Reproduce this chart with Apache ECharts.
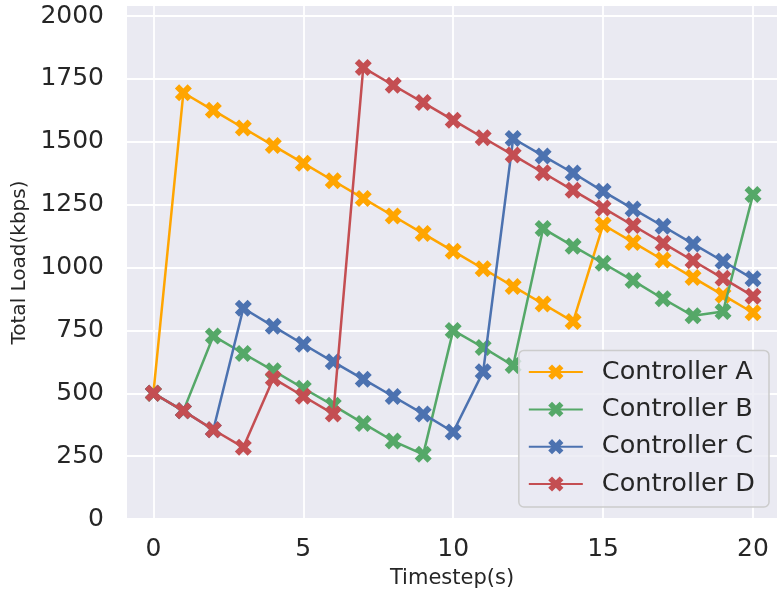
<!DOCTYPE html>
<html>
<head>
<meta charset="utf-8">
<script src="https://cdn.jsdelivr.net/npm/echarts@6/dist/echarts.min.js"></script>
<style>
  html, body { margin: 0; padding: 0; background: #ffffff; }
  #chart { width: 777px; height: 594px; }
</style>
</head>
<body>
<div id="chart"></div>
<script>
// Timesteps and per-controller total load (kbps)
const timesteps = [0, 1, 2, 3, 4, 5, 6, 7, 8, 9, 10, 11, 12, 13, 14, 15, 16, 17, 18, 19, 20];
const controllerA = [500, 1695, 1625, 1555, 1485, 1415, 1345, 1275, 1205, 1135, 1065, 995, 925, 855, 785, 1170, 1100, 1030, 960, 890, 820];
const controllerB = [500, 430, 728, 658, 590, 520, 452, 380, 310, 257, 750, 682, 610, 1155, 1085, 1017, 948, 876, 808, 825, 1290];
const controllerC = [500, 430, 355, 838, 766, 695, 625, 556, 487, 418, 346, 586, 1513, 1444, 1376, 1303, 1233, 1164, 1094, 1025, 955];
const controllerD = [500, 430, 355, 285, 559, 488, 418, 1795, 1725, 1656, 1586, 1516, 1447, 1377, 1307, 1237, 1167, 1097, 1027, 957, 886];

const seriesNames = ['Controller A', 'Controller B', 'Controller C', 'Controller D'];
const seriesColors = ['#FFA500', '#55A868', '#4C72B0', '#C44E52'];
const seriesValues = [controllerA, controllerB, controllerC, controllerD];

const xTicks = [0, 5, 10, 15, 20];
const yTicks = [0, 250, 500, 750, 1000, 1250, 1500, 1750, 2000];

// filled "X" marker
const xMarker = 'path://M1,-2L0,-1L-1,-2L-2,-1L-1,0L-2,1L-1,2L0,1L1,2L2,1L1,0L2,-1Z';

const textColor = '#262626';
const fontFamily = '"DejaVu Sans", sans-serif';

const chart = echarts.init(document.getElementById('chart'), null, { renderer: 'canvas' });

chart.setOption({
  animation: false,
  backgroundColor: '#ffffff',
  grid: {
    left: 127, right: 0, top: 6, bottom: 73.4,
    show: true, backgroundColor: '#EAEAF2', borderWidth: 0
  },
  xAxis: {
    type: 'value',
    min: -0.88, max: 20.8,
    name: 'Timestep(s)',
    nameLocation: 'middle',
    nameGap: 49,
    nameTextStyle: { fontFamily, fontSize: 21, color: textColor },
    axisLine: { show: false },
    axisTick: { show: false, customValues: xTicks },
    axisLabel: { customValues: xTicks, fontFamily, fontSize: 25, color: textColor, margin: 18, formatter: v => String(v) },
    splitLine: { show: true, lineStyle: { color: '#ffffff', width: 1.8 } }
  },
  yAxis: {
    type: 'value',
    min: 0, max: 2040,
    name: 'Total Load(kbps)',
    nameLocation: 'middle',
    nameGap: 93,
    nameTextStyle: { fontFamily, fontSize: 20, color: textColor },
    axisLine: { show: false },
    axisTick: { show: false, customValues: yTicks },
    axisLabel: { customValues: yTicks, fontFamily, fontSize: 25, color: textColor, margin: 23, formatter: v => String(v) },
    splitLine: { show: true, lineStyle: { color: '#ffffff', width: 1.8 } }
  },
  legend: {
    orient: 'vertical',
    right: 8, bottom: 87,
    data: seriesNames,
    itemWidth: 54, itemHeight: 19,
    itemGap: 7.3,
    padding: [6.7, 14, 8, 9],
    backgroundColor: 'rgba(234,234,242,0.8)',
    borderColor: '#CCCCCC', borderWidth: 1.5, borderRadius: 5,
    textStyle: { fontFamily, fontSize: 25.5, color: textColor, lineHeight: 30, padding: [0, 0, 0, 14] }
  },
  series: seriesNames.map((name, i) => ({
    name,
    type: 'line',
    data: timesteps.map((t, j) => [t, seriesValues[i][j]]),
    symbol: xMarker,
    symbolSize: 17,
    showAllSymbol: true,
    clip: false,
    z: 2 + i,
    itemStyle: { color: seriesColors[i] },
    lineStyle: { color: seriesColors[i], width: 2.5 },
    emphasis: { disabled: true }
  }))
});
</script>
</body>
</html>
